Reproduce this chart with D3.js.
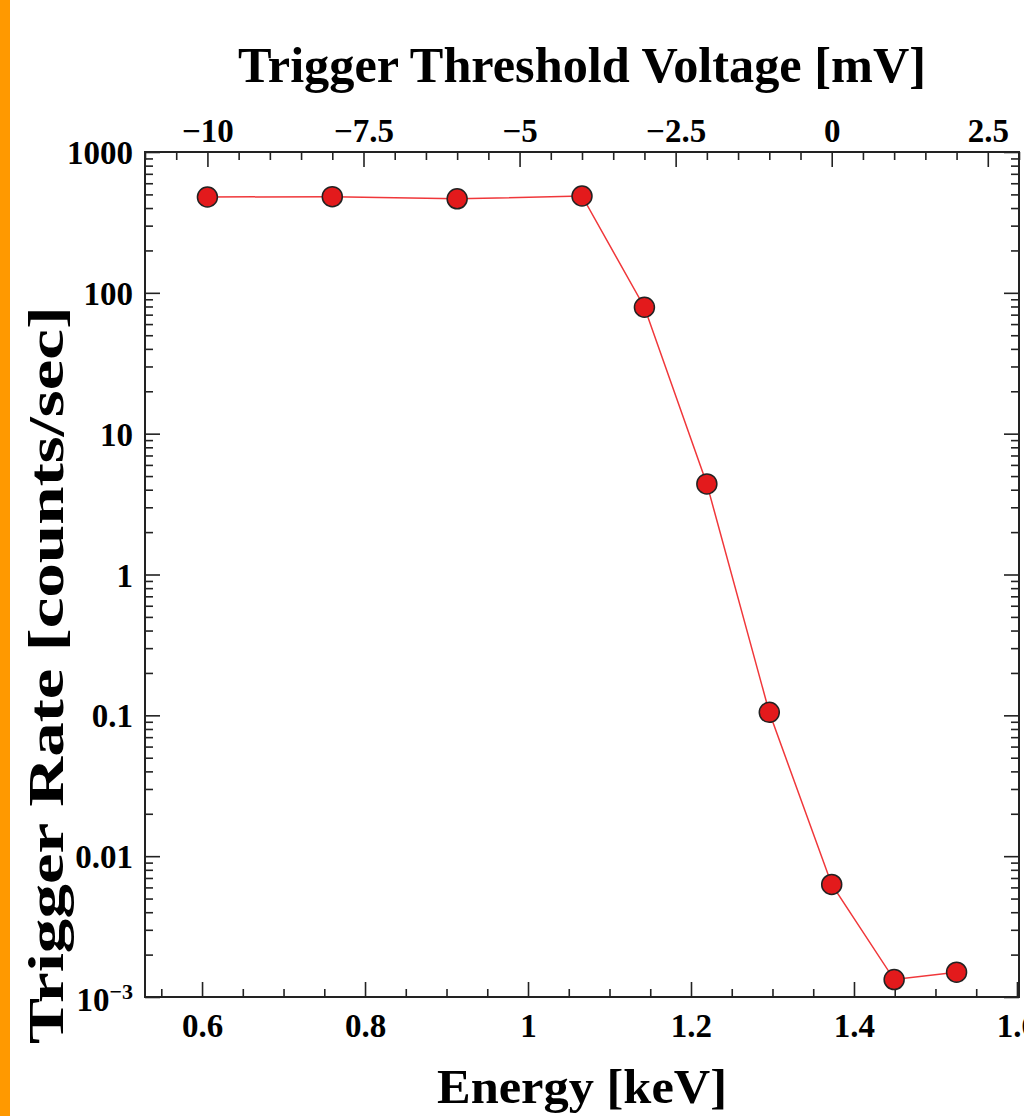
<!DOCTYPE html>
<html>
<head>
<meta charset="utf-8">
<script src="https://cdn.jsdelivr.net/npm/d3@7"></script>
<style>
  body { margin: 0; background: #fff; }
  svg text { font-family: "Liberation Serif", "Times New Roman", serif; font-weight: bold; fill: #000; }
  .axis path { display: none; }
  .axis line { stroke: #222; stroke-width: 1.6; }
</style>
</head>
<body>
<svg id="chart"></svg>
<script>
// data
const voltages = [-10, -8, -6, -4, -3, -2, -1, 0, 1, 2];   // mV (top axis)
const rates = [479, 482, 465, 487, 79, 4.4, 0.105, 0.0063, 0.00133, 0.0015]; // counts/sec

const topTicks = [-10, -7.5, -5, -2.5, 0, 2.5];
const topTickLabels = ['\u221210', '\u22127.5', '\u22125', '\u22122.5', '0', '2.5'];
const bottomTicks = [0.6, 0.8, 1, 1.2, 1.4, 1.6];
const bottomTickLabels = ['0.6', '0.8', '1', '1.2', '1.4', '1.6'];
const yTicks = [1e-3, 1e-2, 1e-1, 1, 10, 100, 1000];
const yTickLabels = ['10', '0.01', '0.1', '1', '10', '100', '1000'];

const config = {
  width: 1024, height: 1116,
  margin: {top: 152, right: 5, bottom: 119, left: 145}
};

const svg = d3.select('#chart')
  .attr('width', config.width)
  .attr('height', config.height);

// orange stripe on the left edge
svg.append('rect')
  .attr('x', 0).attr('y', 0)
  .attr('width', 10).attr('height', config.height)
  .attr('fill', '#ff9900');

const w = config.width - config.margin.left - config.margin.right;
const h = config.height - config.margin.top - config.margin.bottom;

const chart = svg.append('g')
  .attr('transform', `translate(${config.margin.left},${config.margin.top})`);

const xVolt = d3.scaleLinear().domain([-11, 3]).range([0, w]);
const xEnergy = d3.scaleLinear().domain([0.53, 1.6025]).range([0, w]);
const yScale = d3.scaleLog().domain([1e-3, 1e3]).range([h, 0]);

// minor tick values
const topMinor = d3.range(-11, 3.01, 0.5).filter(v => !topTicks.includes(v));
const bottomMinor = d3.range(0.55, 1.6, 0.05).map(v => +v.toFixed(2))
  .filter(v => !bottomTicks.some(t => Math.abs(t - v) < 1e-6));
const yMinor = [];
for (let e = -3; e < 3; e++) {
  for (let m = 2; m <= 9; m++) yMinor.push(m * Math.pow(10, e));
}

// bottom axis (energy)
chart.append('g').attr('class', 'axis')
  .attr('transform', `translate(0,${h})`)
  .call(d3.axisBottom(xEnergy).tickValues(bottomMinor).tickSize(-8).tickFormat(''));
const bottomAxis = chart.append('g').attr('class', 'axis')
  .attr('transform', `translate(0,${h})`)
  .call(d3.axisBottom(xEnergy).tickValues(bottomTicks).tickSize(-15)
    .tickFormat((d, i) => bottomTickLabels[i]));
bottomAxis.selectAll('text').style('font-size', '33px')
  .attr('y', 40).attr('dy', 0);

// top axis (voltage)
chart.append('g').attr('class', 'axis')
  .call(d3.axisTop(xVolt).tickValues(topMinor).tickSize(-8).tickFormat(''));
const topAxis = chart.append('g').attr('class', 'axis')
  .call(d3.axisTop(xVolt).tickValues(topTicks).tickSize(-15)
    .tickFormat((d, i) => topTickLabels[i]));
topAxis.selectAll('text').style('font-size', '33px')
  .attr('y', -10).attr('dy', 0);

// left axis
chart.append('g').attr('class', 'axis')
  .call(d3.axisLeft(yScale).tickValues(yMinor).tickSize(-8).tickFormat(''));
const leftAxis = chart.append('g').attr('class', 'axis')
  .call(d3.axisLeft(yScale).tickValues(yTicks).tickSize(-15)
    .tickFormat((d, i) => yTickLabels[i]));
leftAxis.selectAll('text').style('font-size', '33px')
  .attr('x', -12).attr('dy', '0.35em');
// 10^-3 label gets a superscript
leftAxis.selectAll('text').filter(d => d === 1e-3)
  .attr('dy', '0.42em')
  .append('tspan')
  .attr('dy', '-0.55em')
  .style('font-size', '22px')
  .text('\u22123');

// right axis (no labels)
chart.append('g').attr('class', 'axis')
  .attr('transform', `translate(${w},0)`)
  .call(d3.axisRight(yScale).tickValues(yMinor).tickSize(-8).tickFormat(''));
chart.append('g').attr('class', 'axis')
  .attr('transform', `translate(${w},0)`)
  .call(d3.axisRight(yScale).tickValues(yTicks).tickSize(-15).tickFormat(''));

// frame
chart.append('rect')
  .attr('width', w).attr('height', h)
  .attr('fill', 'none')
  .attr('stroke', '#222')
  .attr('stroke-width', 2);

// data line + points
const pts = voltages.map((v, i) => ({v, r: rates[i]}));
const line = d3.line().x(d => xVolt(d.v)).y(d => yScale(d.r));
chart.append('path')
  .datum(pts)
  .attr('d', line)
  .attr('fill', 'none')
  .attr('stroke', '#f0373a')
  .attr('stroke-width', 1.5);

chart.selectAll('.pt')
  .data(pts)
  .join('circle')
  .attr('class', 'pt')
  .attr('cx', d => xVolt(d.v))
  .attr('cy', d => yScale(d.r))
  .attr('r', 10)
  .attr('fill', '#e31a1c')
  .attr('stroke', '#222')
  .attr('stroke-width', 1.5);

// titles
svg.append('text')
  .attr('x', config.margin.left + w / 2)
  .attr('y', 82)
  .attr('text-anchor', 'middle')
  .style('font-size', '50px')
  .attr('textLength', 688)
  .attr('lengthAdjust', 'spacingAndGlyphs')
  .text('Trigger Threshold Voltage [mV]');

svg.append('text')
  .attr('x', config.margin.left + w / 2)
  .attr('y', 1103)
  .attr('text-anchor', 'middle')
  .style('font-size', '48px')
  .attr('textLength', 290)
  .attr('lengthAdjust', 'spacingAndGlyphs')
  .text('Energy [keV]');

// y title: glyphs are stretched along the text in the original, so scale it
const yTitle = svg.append('text')
  .attr('text-anchor', 'middle')
  .style('font-size', '50px')
  .text('Trigger Rate [counts/sec]');
const natural = yTitle.node().getComputedTextLength();
const sx = 738 / natural;
yTitle.attr('transform', `translate(63,675) rotate(-90) scale(${sx},1)`);
</script>
</body>
</html>
